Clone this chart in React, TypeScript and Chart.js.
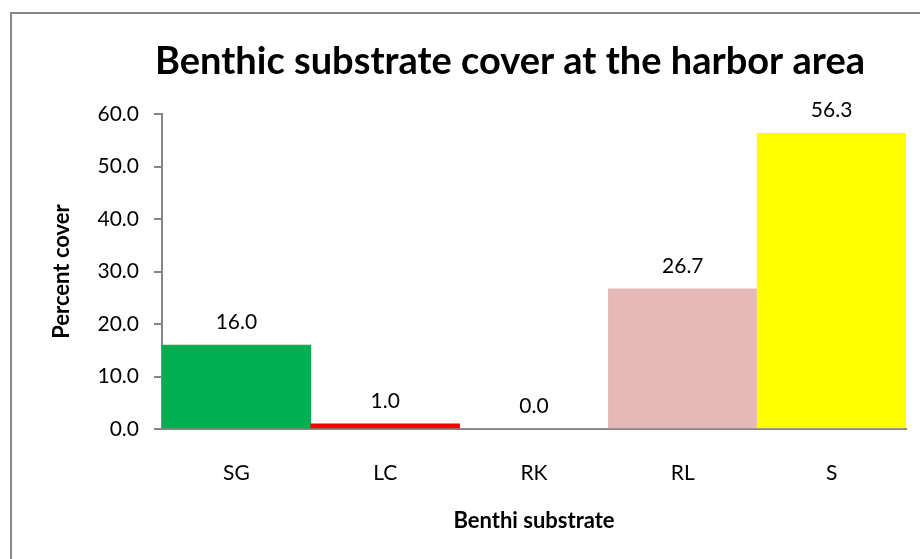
import React, { useEffect, useRef } from "react";
import { Chart, registerables } from "chart.js";

Chart.register(...registerables);

const categories = ["SG", "LC", "RK", "RL", "S"];
const values = [16.0, 1.0, 0.0, 26.7, 56.3];
const barColors = ["#00B050", "#FF0000", "#A6A6A6", "#E6B9B8", "#FFFF00"];
const yMin = 0;
const yMax = 60;
const yStep = 10;
const chartTitle = "Benthic substrate cover at the harbor area";
const xTitle = "Benthi substrate";
const yTitle = "Percent cover";

const FONT = "Lato, 'Open Sans', sans-serif";
const W = 1020;
const H = 559;

const framePlugin = {
  id: "frame",
  beforeDraw(chart: any) {
    const ctx = chart.ctx;
    ctx.save();
    ctx.fillStyle = "#ffffff";
    ctx.fillRect(0, 0, chart.width, chart.height);
    ctx.strokeStyle = "#868686";
    ctx.lineWidth = 2;
    ctx.strokeRect(11, 13, 2000, 2000);
    ctx.restore();
  },
};

const valueLabelPlugin = {
  id: "valueLabels",
  afterDatasetsDraw(chart: any) {
    const ctx = chart.ctx;
    const meta = chart.getDatasetMeta(0);
    ctx.save();
    ctx.fillStyle = "#000";
    ctx.font = `21px ${FONT}`;
    ctx.textAlign = "center";
    ctx.textBaseline = "middle";
    meta.data.forEach((el: any, i: number) => {
      ctx.fillText(values[i].toFixed(1), el.x, el.y - 23);
    });
    ctx.restore();
  },
};

export default function App() {
  const ref = useRef<HTMLCanvasElement>(null);
  useEffect(() => {
    if (!ref.current) return;
    const chart = new Chart(ref.current, {
      type: "bar",
      data: {
        labels: categories,
        datasets: [
          {
            data: values,
            backgroundColor: barColors,
            borderWidth: 0,
            categoryPercentage: 1,
            barPercentage: 1,
          },
        ],
      },
      options: {
        responsive: false,
        animation: false,
        layout: { padding: 0 },
        plugins: {
          legend: { display: false },
          tooltip: { enabled: false },
          title: {
            display: true,
            text: chartTitle,
            color: "#000",
            font: { family: FONT, size: 38, weight: "bold" },
            padding: { top: 39, bottom: 29.4 },
          },
        },
        scales: {
          x: {
            grid: { display: false, drawTicks: false },
            border: { display: true, color: "#868686", width: 2 },
            ticks: { padding: 32, color: "#000", font: { family: FONT, size: 21 } },
            title: {
              display: true,
              text: xTitle,
              color: "#000",
              font: { family: FONT, size: 22, weight: "bold" },
              padding: { top: 0, bottom: 25 },
            },
            afterFit(s: any) {
              s.height = 130;
            },
          },
          y: {
            min: yMin,
            max: yMax,
            ticks: {
              stepSize: yStep,
              padding: 15,
              color: "#000",
              font: { family: FONT, size: 21 },
              callback: (v: any) => Number(v).toFixed(1),
            },
            grid: {
              drawOnChartArea: false,
              drawTicks: true,
              tickLength: 8,
              color: "#868686",
              lineWidth: 2,
            },
            border: { display: true, color: "#868686", width: 2 },
            title: {
              display: true,
              text: yTitle,
              color: "#000",
              font: { family: FONT, size: 22, weight: "bold" },
              padding: { top: 49, bottom: 0 },
            },
            afterFit(s: any) {
              s.width = 162;
            },
          },
          y2: {
            type: "linear",
            position: "right",
            display: true,
            grid: { display: false, drawTicks: false },
            border: { display: false },
            ticks: { display: false },
            afterFit(s: any) {
              s.width = W - 906;
            },
          },
        },
      } as any,
      plugins: [framePlugin, valueLabelPlugin],
    });
    return () => chart.destroy();
  }, []);
  return (
    <div
      style={{
        position: "fixed",
        left: 0,
        top: 0,
        width: 920,
        height: 559,
        overflow: "hidden",
        background: "#fff",
      }}
    >
      <canvas ref={ref} width={W} height={H} style={{ width: W, height: H, display: "block" }} />
    </div>
  );
}
